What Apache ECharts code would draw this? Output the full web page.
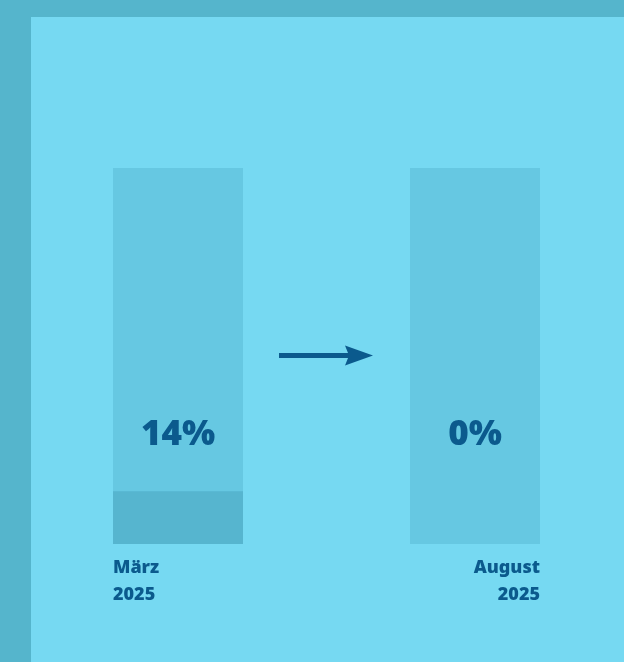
<!DOCTYPE html>
<html>
<head>
<meta charset="utf-8">
<script src="https://cdn.jsdelivr.net/npm/echarts@6/dist/echarts.min.js"></script>
<style>
html,body{margin:0;padding:0;background:#55b5cc;}
#c{width:624px;height:662px;}
</style>
</head>
<body>
<div id="c"></div>
<script>
const categories = ['März 2025', 'August 2025'];
const monthLabels = ['März', 'August'];
const yearLabels = ['2025', '2025'];
const totalValues = [100, 100];
const shareValues = [14, 0];

const textColor = '#0b5a8d';
const chart = echarts.init(document.getElementById('c'));
chart.setOption({
  backgroundColor: '#55b5cc',
  animation: false,
  graphic: [
    { type: 'rect', z: -10, shape: { x: 31, y: 17, width: 593, height: 645 }, style: { fill: '#76d9f2' } },
    { type: 'line', z: 10, shape: { x1: 279, y1: 355.5, x2: 350, y2: 355.5 }, style: { stroke: '#0b5a8d', lineWidth: 5 } },
    { type: 'polygon', z: 10, shape: { points: [[345, 345.5], [373, 355.5], [345, 365.5], [349, 355.5]] }, style: { fill: '#0b5a8d' } }
  ],
  grid: { left: 29.5, right: 0.5, top: 168, bottom: 118 },
  xAxis: {
    type: 'category',
    data: categories,
    axisLine: { show: false },
    axisTick: { show: false },
    axisLabel: {
      margin: 10,
      interval: 0,
      formatter: function (v, i) {
        const k = i === 0 ? 'l' : 'r';
        return '{' + k + '|' + monthLabels[i] + '}\n{' + k + '|' + yearLabels[i] + '}';
      },
      rich: {
        l: { width: 130, align: 'left', fontSize: 18, fontWeight: 900, color: textColor, lineHeight: 27, fontFamily: 'Noto Sans' },
        r: { width: 130, align: 'right', fontSize: 18, fontWeight: 900, color: textColor, lineHeight: 27, fontFamily: 'Noto Sans' }
      }
    }
  },
  yAxis: { type: 'value', min: 0, max: 100, show: false },
  series: [
    {
      type: 'bar',
      data: totalValues,
      barWidth: 130,
      barGap: '-100%',
      itemStyle: { color: '#66c8e2' },
      label: {
        show: true,
        position: 'insideBottom',
        distance: 92,
        formatter: function (p) { return shareValues[p.dataIndex] + '%'; },
        fontSize: 35,
        lineHeight: 34,
        fontWeight: 900,
        fontFamily: 'Noto Sans',
        color: textColor
      },
      z: 2
    },
    {
      type: 'bar',
      data: shareValues,
      barWidth: 130,
      itemStyle: { color: '#56b5cf' },
      z: 3
    }
  ]
});
</script>
</body>
</html>
